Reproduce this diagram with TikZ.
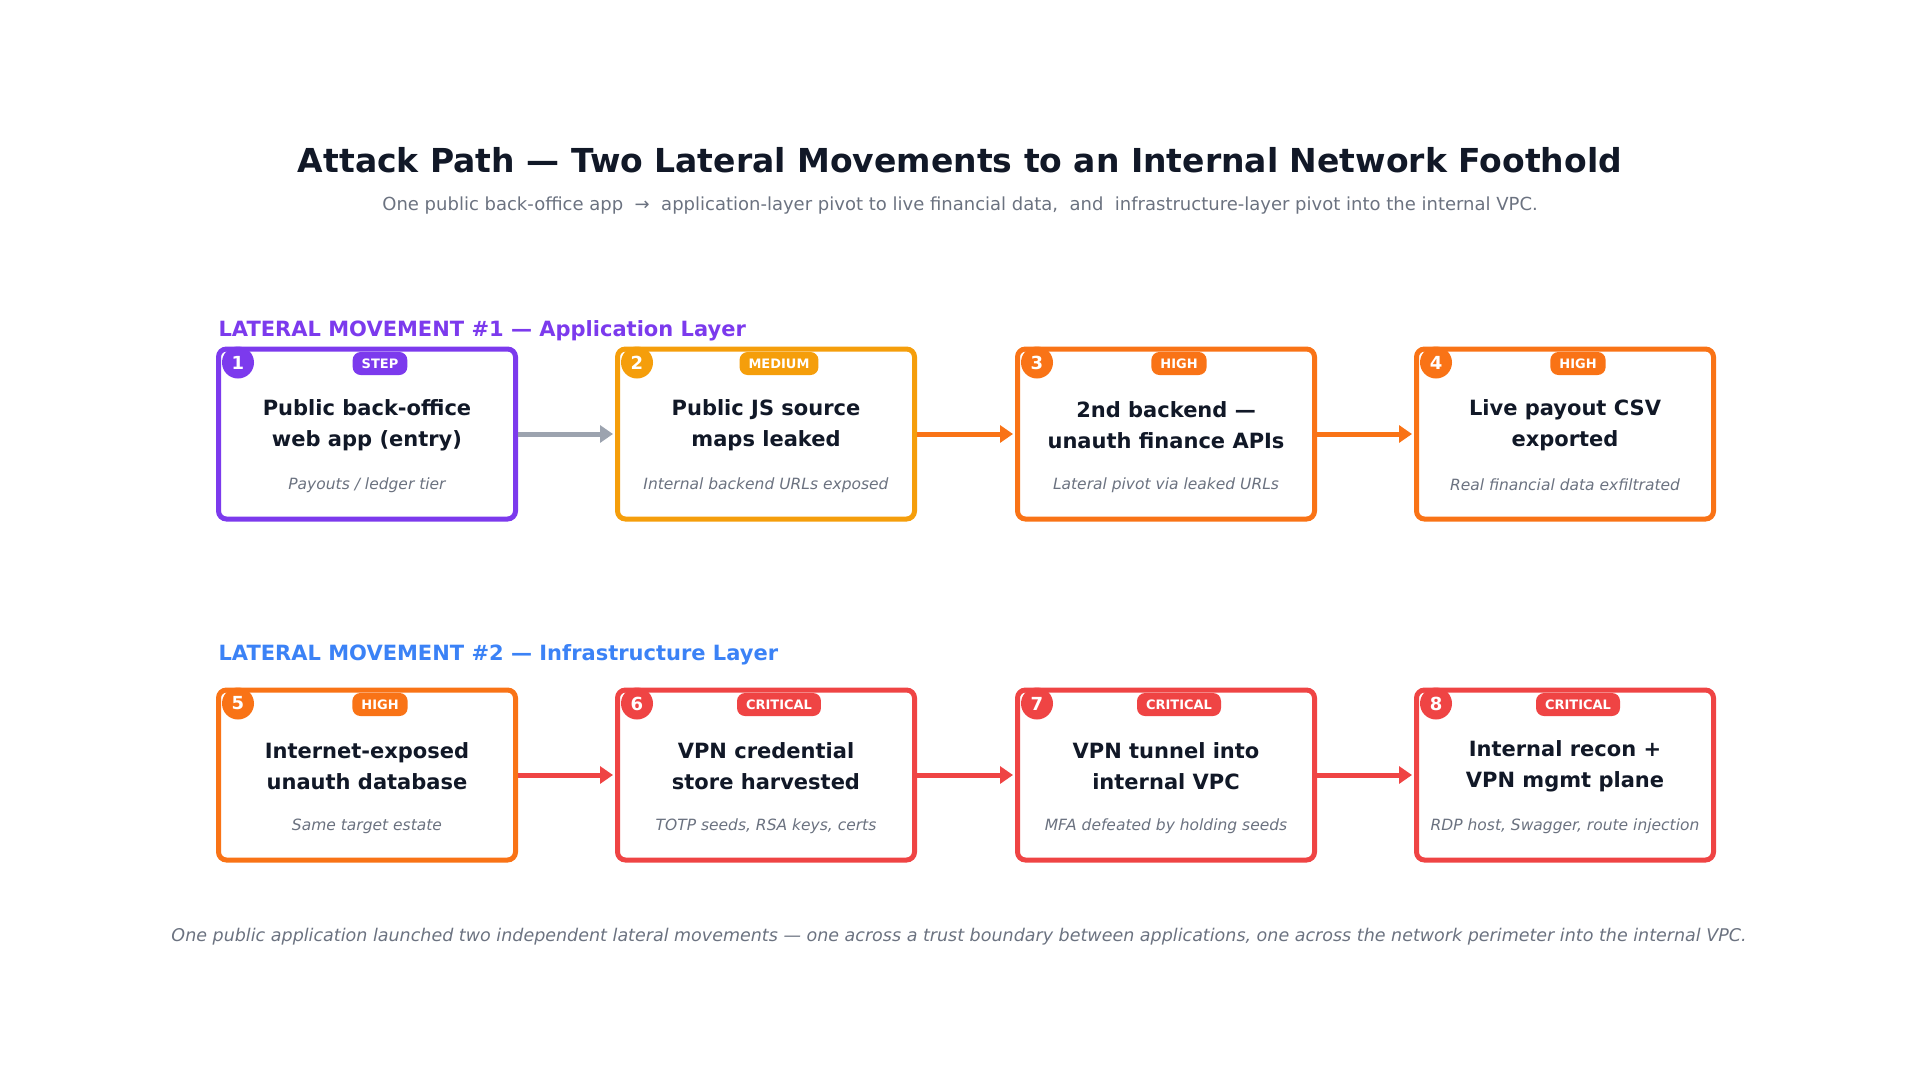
\documentclass[tikz,border=0pt]{standalone}
\usepackage{fontspec}
\setmainfont{DejaVu Sans}
\usetikzlibrary{arrows.meta}
\definecolor{cpur}{HTML}{7C3AED}
\definecolor{camb}{HTML}{F59E0B}
\definecolor{corg}{HTML}{F97316}
\definecolor{cred}{HTML}{EF4444}
\definecolor{cblu}{HTML}{3B82F6}
\definecolor{cgry}{HTML}{9CA3AF}
\definecolor{cdark}{HTML}{111827}
\definecolor{ctxt}{HTML}{6B7280}
\tikzset{
 box/.style={draw=#1,line width=5pt,rounded corners=8pt,minimum width=297pt,minimum height=170pt,inner sep=0pt,fill=white},
 num/.style={circle,fill=#1,text=white,minimum size=32pt,inner sep=0pt,font=\bfseries\fontsize{18}{18}\selectfont},
 pill/.style={rounded corners=8pt,fill=#1,text=white,minimum height=23pt,inner xsep=9pt,inner ysep=0pt,font=\bfseries\fontsize{13}{13}\selectfont},
 main/.style={text=cdark,align=center,font=\bfseries\fontsize{21}{31}\selectfont},
 sub/.style={text=ctxt,font=\itshape\fontsize{15.5}{15.5}\selectfont},
 sect/.style={anchor=west,font=\bfseries\fontsize{21}{21}\selectfont,text=#1},
 arr/.style={draw=#1,line width=5pt,-{Triangle[length=13pt,width=17pt]},shorten >=2pt}
}
\newcommand{\stepbox}[8]{%
 \node[box=#4] (b#1) at (#2,#3) {};
 \node[num=#4] (n#1) at ([xshift=22pt,yshift=-16pt]b#1.north west) {#1};
 \node[pill=#4] (p#1) at ([xshift=13pt,yshift=-17pt]b#1.north) {#5};
 \node[main] (m#1) at ([yshift=9pt]b#1.center) {#6\\#7};
 \node[sub] (s#1) at ([yshift=-51pt]b#1.center) {#8};
}
\begin{document}
\begin{tikzpicture}[x=1pt,y=-1pt]
\useasboundingbox (0,0) rectangle (1920,1080);
\node[text=cdark,font=\bfseries\fontsize{33}{33}\selectfont] (title) at (960,160) {Attack Path — Two Lateral Movements to an Internal Network Foothold};
\node[text=ctxt,font=\fontsize{18}{18}\selectfont] (subt) at (960,206) {One public back-office app \ → \ application-layer pivot to live financial data, \ and \ infrastructure-layer pivot into the internal VPC.};
\node[sect=cpur] (l1) at (215,331) {LATERAL MOVEMENT \#1 — Application Layer};
\node[sect=cblu] (l2) at (215,655) {LATERAL MOVEMENT \#2 — Infrastructure Layer};
\stepbox{1}{367}{434}{cpur}{STEP}{Public back-office}{web app (entry)}{Payouts / ledger tier}
\stepbox{2}{766}{434}{camb}{MEDIUM}{Public JS source}{maps leaked}{Internal backend URLs exposed}
\stepbox{3}{1166}{434}{corg}{HIGH}{2nd backend —}{unauth finance APIs}{Lateral pivot via leaked URLs}
\stepbox{4}{1565}{434}{corg}{HIGH}{Live payout CSV}{exported}{Real financial data exfiltrated}
\stepbox{5}{367}{775}{corg}{HIGH}{Internet-exposed}{unauth database}{Same target estate}
\stepbox{6}{766}{775}{cred}{CRITICAL}{VPN credential}{store harvested}{TOTP seeds, RSA keys, certs}
\stepbox{7}{1166}{775}{cred}{CRITICAL}{VPN tunnel into}{internal VPC}{MFA defeated by holding seeds}
\stepbox{8}{1565}{775}{cred}{CRITICAL}{Internal recon +}{VPN mgmt plane}{RDP host, Swagger, route injection}
\draw[arr=cgry] (b1.east) -- (b2.west);
\draw[arr=corg] (b2.east) -- (b3.west);
\draw[arr=corg] (b3.east) -- (b4.west);
\draw[arr=cred] (b5.east) -- (b6.west);
\draw[arr=cred] (b6.east) -- (b7.west);
\draw[arr=cred] (b7.east) -- (b8.west);
\node[text=ctxt,font=\itshape\fontsize{17.5}{17.5}\selectfont] (foot) at (959,937) {One public application launched two independent lateral movements — one across a trust boundary between applications, one across the network perimeter into the internal VPC.};
\end{tikzpicture}
\end{document}
